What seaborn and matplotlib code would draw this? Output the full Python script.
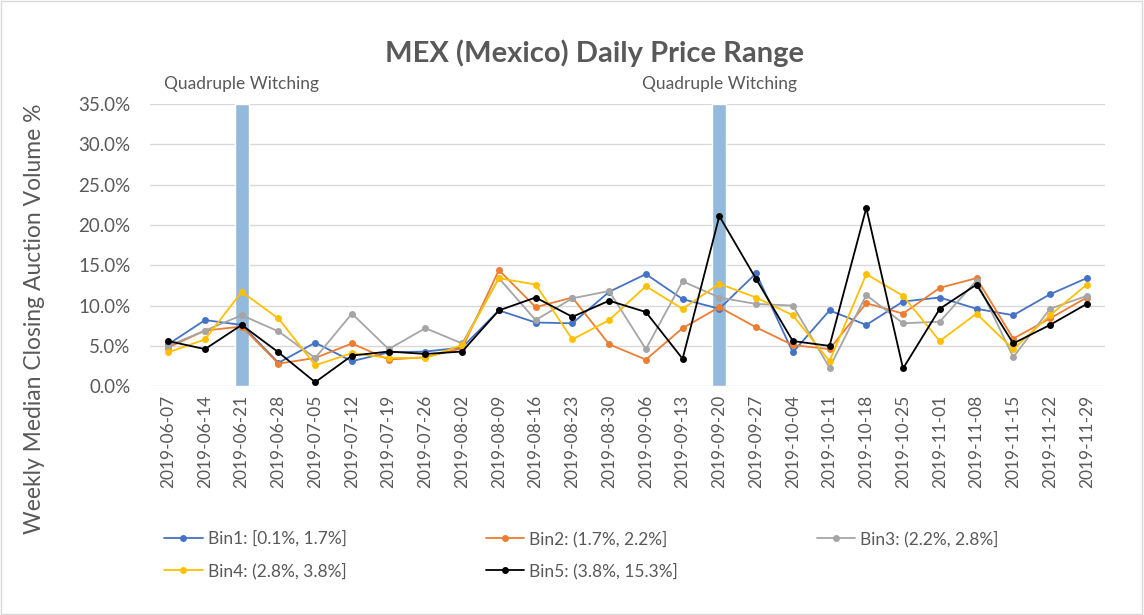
import pandas as pd
import matplotlib.pyplot as plt
import numpy as np
import seaborn as sns
from matplotlib.patches import Rectangle
from matplotlib.ticker import FuncFormatter

dates = ['2019-06-07', '2019-06-14', '2019-06-21', '2019-06-28', '2019-07-05', '2019-07-12',
         '2019-07-19', '2019-07-26', '2019-08-02', '2019-08-09', '2019-08-16', '2019-08-23',
         '2019-08-30', '2019-09-06', '2019-09-13', '2019-09-20', '2019-09-27', '2019-10-04',
         '2019-10-11', '2019-10-18', '2019-10-25', '2019-11-01', '2019-11-08', '2019-11-15',
         '2019-11-22', '2019-11-29']

bin1 = [5.2, 8.2, 7.6, 2.9, 5.4, 3.1, 4.2, 4.3, 4.8, 9.4, 7.9, 7.8, 11.7, 13.9, 10.8, 9.6,
        14.0, 4.2, 9.4, 7.6, 10.5, 11.0, 9.6, 8.8, 11.4, 13.4]
bin2 = [4.8, 6.9, 7.4, 2.8, 3.5, 5.3, 3.3, 3.6, 4.7, 14.4, 9.8, 11.0, 5.2, 3.3, 7.2, 9.8,
        7.3, 5.1, 4.6, 10.3, 9.0, 12.2, 13.4, 5.9, 8.4, 11.0]
bin3 = [5.0, 6.9, 8.8, 6.8, 3.5, 9.0, 4.6, 7.2, 5.3, 13.4, 8.2, 10.9, 11.8, 4.6, 13.0, 11.0,
        10.2, 10.0, 2.3, 11.3, 7.8, 8.0, 13.1, 3.6, 9.6, 11.2]
bin4 = [4.2, 5.8, 11.7, 8.4, 2.6, 4.1, 3.5, 3.5, 5.1, 13.4, 12.6, 5.8, 8.2, 12.4, 9.6, 12.7,
        11.0, 8.8, 3.1, 13.9, 11.2, 5.6, 9.0, 4.6, 8.8, 12.6]
bin5 = [5.6, 4.6, 7.6, 4.2, 0.5, 3.8, 4.3, 4.0, 4.3, 9.4, 11.0, 8.6, 10.6, 9.2, 3.4, 21.1,
        13.3, 5.6, 5.0, 22.1, 2.2, 9.6, 12.6, 5.3, 7.6, 10.2]

bin_labels = ['Bin1: [0.1%, 1.7%]', 'Bin2: (1.7%, 2.2%]', 'Bin3: (2.2%, 2.8%]',
              'Bin4: (2.8%, 3.8%]', 'Bin5: (3.8%, 15.3%]']
colors = ['#4472C4', '#ED7D31', '#A5A5A5', '#FFC000', '#000000']

witching_dates = ['2019-06-21', '2019-09-20']
witching_height = [35, 35]

df = pd.DataFrame({'date': dates * 5,
                   'value': bin1 + bin2 + bin3 + bin4 + bin5,
                   'bin': np.repeat(bin_labels, len(dates))})

sns.set_style('white')
plt.rcParams['font.family'] = ['Lato', 'DejaVu Sans']
grey = '#595959'

fig, ax = plt.subplots(figsize=(11.44, 6.15), dpi=100)
fig.subplots_adjust(left=0.131, right=0.966, top=0.831, bottom=0.372)

sns.lineplot(data=df, x='date', y='value', hue='bin', palette=colors, marker='o',
             markersize=5, markeredgewidth=0, linewidth=1.3, ax=ax, zorder=3)

# witching week bands, behind the lines
ax.bar(witching_dates, witching_height, width=0.38, color='#93BADB', zorder=1)

ax.set_ylim(0, 35)
ax.set_xlim(-0.5, len(dates) - 0.5)
ax.set_yticks(np.arange(0, 36, 5))
ax.yaxis.set_major_formatter(FuncFormatter(lambda v, p: f'{v:.1f}%'))
ax.grid(axis='y', color='#d9d9d9', linewidth=1)
ax.set_axisbelow(True)
for s in ax.spines.values():
    s.set_visible(False)
ax.tick_params(axis='x', labelrotation=90, labelsize=12.5, colors=grey, length=0, pad=6)
ax.tick_params(axis='y', labelsize=13.5, colors=grey, length=0, pad=14)
ax.set_xlabel('')
ax.set_ylabel('Weekly Median Closing Auction Volume %', fontsize=16.5, color=grey)
ax.yaxis.set_label_coords(-0.110, 0.238)

fig.text(0.520, 0.913, 'MEX (Mexico) Daily Price Range', fontsize=21, fontweight='bold',
         color=grey, ha='center', va='center')

for d in witching_dates:
    ax.text(d, 1.072, 'Quadruple Witching', transform=ax.get_xaxis_transform(),
            ha='center', va='center', fontsize=12.5, color=grey)

handles, labels = ax.get_legend_handles_labels()
order = [0, 3, 1, 4, 2]
ax.legend([handles[i] for i in order], [labels[i] for i in order], ncol=3,
          loc='upper left', bbox_to_anchor=(0.13, 0.163), bbox_transform=fig.transFigure,
          frameon=False, fontsize=12.5, labelcolor=grey, handlelength=2.2,
          columnspacing=8.0, labelspacing=0.9, handletextpad=0.3)

fig.patches.append(Rectangle((0.001, 0.002), 0.997, 0.996, transform=fig.transFigure,
                             fill=False, edgecolor='#d9d9d9', linewidth=1))

plt.savefig('out.png', dpi=100)
